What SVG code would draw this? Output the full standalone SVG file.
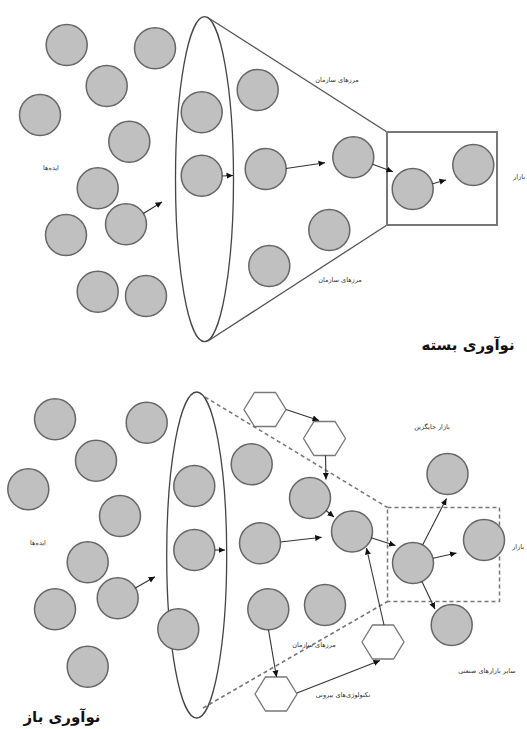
<svg xmlns="http://www.w3.org/2000/svg" width="527" height="729" viewBox="0 0 527 729">
<defs>
<style>
.c{fill:#c0c0c0;stroke:#666;stroke-width:1.5}
.hx{fill:#fff;stroke:#777;stroke-width:1.3}
.el{fill:none;stroke:#444;stroke-width:1.3}
.fn{fill:none;stroke:#555;stroke-width:1.3}
.bx{fill:none;stroke:#777;stroke-width:2}
.ds{fill:none;stroke:#777;stroke-width:1.5;stroke-dasharray:4 3}
.ar{fill:none;stroke:#333;stroke-width:1.1;marker-end:url(#ah)}
.lb{font-family:"DejaVu Sans",sans-serif;font-size:6.5px;fill:#333;text-anchor:middle}
.tt{font-family:"DejaVu Sans",sans-serif;font-size:15px;font-weight:bold;fill:#111;text-anchor:middle}
</style>
<marker id="ah" markerUnits="userSpaceOnUse" markerWidth="7" markerHeight="7" refX="6.5" refY="3.5" orient="auto">
<path d="M0,0.5 L6.5,3.5 L0,6.5 z" fill="#111"/>
</marker>
</defs>
<rect width="527" height="729" fill="#fff"/>

<!-- TOP: closed innovation -->
<g id="top-frame">
<ellipse class="el" cx="204.5" cy="179.2" rx="29" ry="162.5"/>
<line class="fn" x1="207" y1="17" x2="387" y2="132"/>
<line class="fn" x1="208" y1="341" x2="387" y2="225"/>
<rect class="bx" x="387" y="132" width="110" height="93"/>
</g>
<g id="t-c1"><circle class="c" cx="66.7" cy="45" r="20.5"/></g>
<g id="t-c2"><circle class="c" cx="155" cy="48.3" r="20.5"/></g>
<g id="t-c3"><circle class="c" cx="106.7" cy="86" r="20.5"/></g>
<g id="t-c4"><circle class="c" cx="40" cy="115" r="20.5"/></g>
<g id="t-c5"><circle class="c" cx="129.3" cy="141.7" r="20.5"/></g>
<g id="t-c6"><circle class="c" cx="97.7" cy="188.3" r="20.5"/></g>
<g id="t-c7"><circle class="c" cx="126" cy="224.3" r="20.5"/></g>
<g id="t-c8"><circle class="c" cx="66" cy="235" r="20.5"/></g>
<g id="t-c9"><circle class="c" cx="97.7" cy="291.7" r="20.5"/></g>
<g id="t-c10"><circle class="c" cx="146" cy="296" r="20.5"/></g>
<g id="t-c11"><circle class="c" cx="201.7" cy="112.3" r="20.5"/></g>
<g id="t-c12"><circle class="c" cx="201.7" cy="175.7" r="20.5"/></g>
<g id="t-c13"><circle class="c" cx="257.7" cy="90" r="20.5"/></g>
<g id="t-c14"><circle class="c" cx="265.7" cy="169" r="20.5"/></g>
<g id="t-c15"><circle class="c" cx="353.3" cy="157.3" r="20.5"/></g>
<g id="t-c16"><circle class="c" cx="329.3" cy="230" r="20.5"/></g>
<g id="t-c17"><circle class="c" cx="269.3" cy="266" r="20.5"/></g>
<g id="t-c18"><circle class="c" cx="412.7" cy="189" r="20.5"/></g>
<g id="t-c19"><circle class="c" cx="473.3" cy="165" r="20.5"/></g>

<g id="top-connectors">
<line class="ar" x1="143.4" y1="213.5" x2="162" y2="202"/>
<line class="ar" x1="222" y1="176" x2="233" y2="175.5"/>
<line class="ar" x1="286" y1="168.5" x2="325" y2="162.7"/>
<line class="ar" x1="372.6" y1="164.3" x2="393" y2="171.7"/>
<line class="ar" x1="432.5" y1="183.7" x2="446" y2="180"/>
</g>

<g id="top-labels">
<text class="lb" x="337" y="82">مرزهای سازمان</text>
<text class="lb" x="340" y="282">مرزهای سازمان</text>
<text class="lb" x="51" y="170">ایده‌ها</text>
<text class="lb" x="519" y="179">بازار</text>
<text class="tt" x="468" y="350">نوآوری بسته</text>
</g>

<!-- BOTTOM: open innovation -->
<g id="bottom-frame">
<ellipse class="el" cx="196.7" cy="555" rx="30" ry="163"/>
<line class="ds" x1="205" y1="397" x2="387.5" y2="507.5"/>
<line class="ds" x1="203" y1="708" x2="387.5" y2="601.5"/>
<rect class="ds" x="387.5" y="507.5" width="112" height="94"/>
</g>
<g id="b-c1"><circle class="c" cx="55" cy="419.3" r="20.5"/></g>
<g id="b-c2"><circle class="c" cx="146.7" cy="422.7" r="20.5"/></g>
<g id="b-c3"><circle class="c" cx="96" cy="460.7" r="20.5"/></g>
<g id="b-c4"><circle class="c" cx="28.3" cy="489.3" r="20.5"/></g>
<g id="b-c5"><circle class="c" cx="120" cy="516" r="20.5"/></g>
<g id="b-c6"><circle class="c" cx="87.7" cy="562.3" r="20.5"/></g>
<g id="b-c7"><circle class="c" cx="117.7" cy="598.3" r="20.5"/></g>
<g id="b-c8"><circle class="c" cx="55" cy="609.3" r="20.5"/></g>
<g id="b-c9"><circle class="c" cx="87.7" cy="666.7" r="20.5"/></g>
<g id="b-c10"><circle class="c" cx="194.3" cy="486" r="20.5"/></g>
<g id="b-c11"><circle class="c" cx="194.3" cy="550" r="20.5"/></g>
<g id="b-c12"><circle class="c" cx="178.3" cy="629.3" r="20.5"/></g>
<g id="b-c13"><circle class="c" cx="251.7" cy="464.3" r="20.5"/></g>
<g id="b-c14"><circle class="c" cx="260" cy="543.3" r="20.5"/></g>
<g id="b-c15"><circle class="c" cx="310" cy="498" r="20.5"/></g>
<g id="b-c16"><circle class="c" cx="352" cy="531.5" r="20.5"/></g>
<g id="b-c17"><circle class="c" cx="268.3" cy="609.3" r="20.5"/></g>
<g id="b-c18"><circle class="c" cx="325" cy="605" r="20.5"/></g>
<g id="b-c19"><circle class="c" cx="413" cy="563" r="20.5"/></g>
<g id="b-c20"><circle class="c" cx="447.5" cy="474" r="20.5"/></g>
<g id="b-c21"><circle class="c" cx="484" cy="540" r="20.5"/></g>
<g id="b-c22"><circle class="c" cx="451.7" cy="625" r="20.5"/></g>

<g id="b-h1"><polygon class="hx" points="244,409.5 254.5,392.5 275.5,392.5 286,409.5 275.5,426.5 254.5,426.5"/></g>
<g id="b-h2"><polygon class="hx" points="303.5,438.5 314,421.5 335,421.5 345.5,438.5 335,455.5 314,455.5"/></g>
<g id="b-h3"><polygon class="hx" points="362,642 372.5,625 393.5,625 404,642 393.5,659 372.5,659"/></g>
<g id="b-h4"><polygon class="hx" points="255,694 265.5,677 286.5,677 297,694 286.5,711 265.5,711"/></g>

<g id="bottom-connectors">
<line class="ar" x1="135.4" y1="588" x2="155" y2="576.7"/>
<line class="ar" x1="214.8" y1="550" x2="225" y2="550"/>
<line class="ar" x1="280.5" y1="542" x2="321.7" y2="537.3"/>
<line class="ar" x1="286" y1="409.5" x2="319" y2="420.5"/>
<line class="ar" x1="325.5" y1="455.5" x2="326" y2="479.5"/>
<line class="ar" x1="326" y1="510.5" x2="334" y2="517"/>
<line class="ar" x1="371" y1="537.7" x2="395.5" y2="545.5"/>
<line class="ar" x1="384" y1="625" x2="366.5" y2="548"/>
<line class="ar" x1="422.6" y1="544.9" x2="446.5" y2="498.5"/>
<line class="ar" x1="433" y1="558.3" x2="456.5" y2="553"/>
<line class="ar" x1="421.9" y1="581.5" x2="435" y2="609"/>
<line class="ar" x1="268.5" y1="629.8" x2="276.5" y2="677"/>
<line class="ar" x1="297" y1="693" x2="380" y2="660.5"/>
</g>

<g id="bottom-labels">
<text class="lb" x="38" y="545">ایده‌ها</text>
<text class="lb" x="432" y="429">بازار جایگزین</text>
<text class="lb" x="518" y="549">بازار</text>
<text class="lb" x="487" y="673">سایر بازارهای صنعتی</text>
<text class="lb" x="314" y="647">مرزهای سازمان</text>
<text class="lb" x="343" y="697">تکنولوژی‌های بیرونی</text>
<text class="tt" x="62" y="722">نوآوری باز</text>
</g>
</svg>
